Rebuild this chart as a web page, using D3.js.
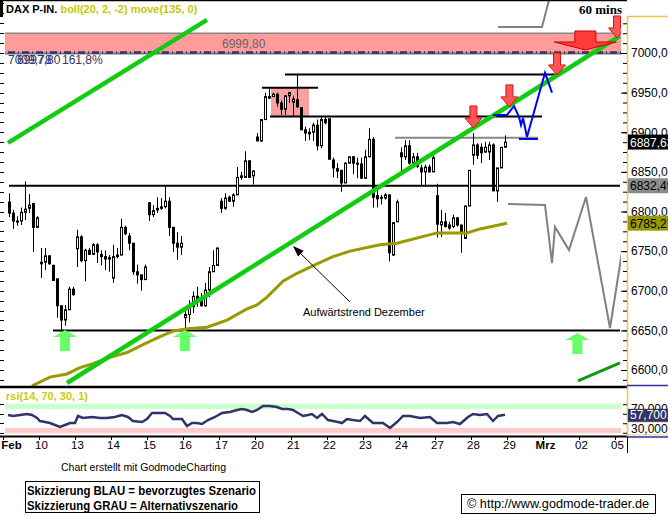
<!DOCTYPE html>
<html>
<head>
<meta charset="utf-8">
<script src="https://cdn.jsdelivr.net/npm/d3@7"></script>
<style>
  body { margin: 0; background: #fff; }
  svg { display: block; font-family: "Liberation Sans", Arial, sans-serif; }
</style>
</head>
<body>
<svg width="668" height="518"></svg>
<script>
// Day labels and the bar index where each trading day starts (hourly bars)
const dayLabels = ['Feb', '10', '13', '14', '15', '16', '17', '20', '21', '22', '23', '24', '27', '28', '29', 'Mrz', '02', '05'];
const dayStarts = [-1, 8, 17, 26, 35, 44, 53, 62, 71, 80, 89, 98, 107, 116, 125, 134, 143, 152];

// Hourly candles [open, high, low, close]
const ohlc = [
  [6812, 6823, 6793, 6798], [6798, 6802, 6778, 6788], [6788, 6794, 6782, 6787], [6788, 6805, 6783, 6799],
  [6799, 6838, 6789, 6803], [6804, 6822, 6798, 6808], [6810, 6811, 6749, 6780], [6780, 6794, 6780, 6792],
  [6734, 6754, 6716, 6736], [6736, 6754, 6726, 6744], [6744, 6745, 6733, 6734], [6732, 6733, 6713, 6713],
  [6715, 6715, 6666, 6681], [6681, 6681, 6648, 6663], [6663, 6682, 6656, 6676], [6676, 6705, 6676, 6702],
  [6702, 6705, 6694, 6695], [6753, 6777, 6730, 6768], [6768, 6770, 6736, 6738], [6738, 6753, 6712, 6751],
  [6751, 6754, 6745, 6746], [6746, 6760, 6745, 6758], [6758, 6760, 6735, 6749], [6746, 6751, 6732, 6743],
  [6743, 6751, 6726, 6740], [6742, 6745, 6724, 6740], [6716, 6758, 6710, 6743], [6743, 6754, 6741, 6745],
  [6745, 6791, 6745, 6780], [6780, 6782, 6770, 6772], [6769, 6773, 6751, 6760], [6760, 6760, 6720, 6724],
  [6724, 6733, 6709, 6720], [6720, 6720, 6700, 6714], [6714, 6733, 6714, 6730], [6811, 6812, 6788, 6796],
  [6796, 6808, 6793, 6801], [6802, 6818, 6798, 6804], [6804, 6817, 6802, 6806], [6806, 6832, 6804, 6813],
  [6813, 6818, 6769, 6780], [6780, 6780, 6749, 6760], [6760, 6774, 6739, 6755], [6755, 6769, 6745, 6760],
  [6666, 6676, 6653, 6670], [6670, 6688, 6660, 6682], [6680, 6699, 6672, 6693], [6693, 6705, 6680, 6688],
  [6688, 6697, 6680, 6681], [6681, 6710, 6680, 6701], [6701, 6730, 6692, 6724], [6724, 6751, 6724, 6732],
  [6732, 6754, 6732, 6754], [6813, 6817, 6798, 6804], [6804, 6823, 6802, 6817], [6818, 6820, 6812, 6813],
  [6813, 6823, 6806, 6821], [6821, 6856, 6821, 6843], [6843, 6850, 6840, 6845], [6843, 6876, 6843, 6864],
  [6864, 6864, 6843, 6843], [6845, 6852, 6834, 6851], [6894, 6899, 6889, 6889], [6889, 6916, 6888, 6916],
  [6916, 6950, 6916, 6945], [6943, 6955, 6942, 6945], [6945, 6950, 6945, 6948], [6948, 6950, 6932, 6937],
  [6937, 6940, 6922, 6929], [6929, 6947, 6922, 6946], [6946, 6951, 6937, 6950], [6938, 6946, 6920, 6942],
  [6941, 6973, 6931, 6932], [6931, 6931, 6903, 6903], [6903, 6907, 6889, 6899], [6898, 6905, 6890, 6900],
  [6900, 6912, 6889, 6909], [6909, 6916, 6877, 6883], [6883, 6919, 6880, 6916], [6916, 6919, 6910, 6912],
  [6917, 6917, 6866, 6866], [6865, 6868, 6843, 6855], [6854, 6861, 6842, 6851], [6852, 6852, 6825, 6836],
  [6836, 6862, 6836, 6861], [6861, 6869, 6861, 6869], [6869, 6870, 6847, 6861], [6861, 6868, 6842, 6860],
  [6860, 6868, 6841, 6842], [6842, 6878, 6842, 6869], [6869, 6905, 6869, 6891], [6891, 6894, 6805, 6818],
  [6820, 6827, 6805, 6816], [6818, 6821, 6809, 6817], [6817, 6823, 6815, 6821], [6821, 6821, 6737, 6748],
  [6745, 6786, 6744, 6786], [6787, 6815, 6787, 6812], [6874, 6881, 6849, 6869], [6869, 6890, 6865, 6883],
  [6883, 6890, 6859, 6861], [6861, 6874, 6856, 6869], [6869, 6874, 6855, 6857], [6855, 6859, 6833, 6850],
  [6850, 6859, 6831, 6856], [6856, 6859, 6849, 6850], [6850, 6874, 6850, 6868], [6820, 6835, 6767, 6784],
  [6783, 6802, 6768, 6787], [6787, 6798, 6780, 6781], [6783, 6787, 6777, 6779], [6781, 6796, 6779, 6792],
  [6792, 6793, 6781, 6783], [6783, 6783, 6748, 6773], [6766, 6807, 6766, 6807], [6807, 6852, 6807, 6852],
  [6871, 6899, 6859, 6884], [6884, 6886, 6866, 6871], [6881, 6886, 6861, 6874], [6875, 6888, 6874, 6881],
  [6875, 6888, 6865, 6884], [6884, 6886, 6826, 6826], [6826, 6855, 6812, 6855], [6855, 6881, 6855, 6881],
  [6881, 6896, 6881, 6887.63]
];

// move(135) line, read at a few bars
const maIdx = [5.75, 10.25, 14.5, 17.75, 21, 25.25, 29.5, 33.5, 37.75, 41, 44.5, 49.5, 54.5, 59.5, 62, 64.5, 68.5, 72, 77, 81, 85.25, 92.75, 97, 107, 114.5, 117.75, 124.5];
const maVal = [6580, 6591, 6595, 6603, 6608, 6616, 6622, 6632, 6642, 6649, 6652, 6654, 6663, 6677, 6682, 6692, 6712, 6722, 6734, 6743, 6750, 6758, 6760, 6773, 6773, 6778, 6785.27];

// rsi(14) line
const rsiIdx = [-0.25, 1, 2.75, 4.5, 5.75, 7, 7.75, 9, 10.25, 11.5, 12.75, 14, 15.25, 16.5, 17.25, 18.5, 20.75, 22.75, 24.5, 26.5, 28.25, 29.75, 31, 33.25, 34.5, 35.75, 37.25, 39, 40.25, 41, 43.25, 44.5, 45.75, 47, 48.25, 49.75, 51.5, 53.25, 55.25, 57, 58.25, 59.5, 60.75, 62, 63.5, 65.25, 67, 68.25, 69.75, 71, 72.25, 73.5, 74.75, 75.75, 77, 78.25, 79.75, 81, 82.25, 83.25, 84.5, 86, 87.75, 89, 91, 93.5, 95.25, 97, 98.5, 100.25, 102.75, 105.25, 107, 109.5, 111, 112.75, 114.75, 116, 117.75, 119.5, 121, 122.25, 124];
const rsiVal = [57.4, 55.3, 57.4, 59.5, 57.4, 51.1, 44.7, 42.6, 40.5, 36.3, 32.1, 36.3, 40.5, 40.5, 55.3, 51.1, 53.2, 51.1, 51.1, 53.2, 57.4, 53.2, 44.7, 42.6, 48.9, 61.6, 61.6, 61.6, 55.3, 48.9, 48.9, 34.2, 40.5, 40.5, 38.4, 46.8, 53.2, 61.6, 63.7, 67.9, 70, 67.9, 63.7, 67.9, 76.3, 76.3, 74.2, 70, 70, 67.9, 61.6, 55.3, 57.4, 59.5, 51.1, 59.5, 46.8, 44.7, 42.6, 40.5, 48.9, 46.8, 44.7, 55.3, 40.5, 40.5, 30, 42.6, 55.3, 55.3, 51.1, 53.2, 40.5, 40.5, 42.6, 38.4, 53.2, 59.5, 57.4, 59.5, 44.7, 55.3, 57.7001];

const priceTicks = [6600, 6650, 6700, 6750, 6800, 6850, 6900, 6950, 7000];
const rsiTicks = [20, 40, 60, 80];

// Drawn trend lines [[bar, price], [bar, price]]
const trendLines = [
  [[-0.25, 6886.5], [49.5, 7041.7]],
  [[14.5, 6583.6], [152.75, 7021.5]]
];
const shortTrend = [[142.25, 6586.2], [152.75, 6608.9]];

// Horizontal marks [fromBar, toBar, price]
const blackLevels = [
  [0, 152.75, 6832.49],
  [11, 152.75, 6650],
  [63.25, 77.25, 6956],
  [69, 137.25, 6973],
  [65.25, 133.25, 6920]
];
const grayLevels = [[96.5, 132.25, 6893]];

// Scenario sketches
const blueIdx = [121, 124.5, 126.25, 127.5, 128, 128.5, 129.5, 134, 135.75];
const bluePx = [6921.8, 6921.8, 6933, 6919.3, 6909, 6918, 6894, 6975, 6950];
const blueBar = [127.5, 132.25, 6891.5];
const grayIdx = [124.75, 134, 135.75, 136.5, 140, 144.25, 150.25, 154];
const grayPx = [6809.5, 6808.2, 6735, 6780.5, 6751.4, 6818.3, 6653, 6773];
const grayTopIdx = [122.25, 133.25, 135, 135.6];
const grayTopPx = [7032.8, 7032.8, 7066.9, 7078];

// Resistance zone and box
const zone = [7000, 7025];
const box = [66, 75, 6920, 6956];

// Arrow tips [bar, price]
const redArrows = [[116.1, 6905.4], [125.1, 6932], [137, 6972.3], [152, 7019]];
const bigArrow = [144.1, 7003.8];
const greenArrows = [[14, 6650.5], [44, 6650.5], [142.1, 6646.7]];

const deLocale = d3.formatLocale({decimal: ',', thousands: '.', grouping: [3], currency: ['', '']});
const fmt2 = deLocale.format('.2f');
const fmt4 = deLocale.format('.4f');

class DaxChart {
  constructor () {
    this.svg = d3.select('svg');
    this.axisX = 627;
    this.plotRight = 621;

    this.x = d3.scaleLinear().domain([-1, 152]).range([5, 617]);
    this.y = d3.scaleLinear().domain([6600, 7000]).range([370, 53]);
    this.r = d3.scaleLinear().domain([30, 70]).range([428, 409]);

    this.line = d3.line()
      .x(d => this.x(d[0]))
      .y(d => this.y(d[1]));

    let defs = this.svg.append('defs');
    defs.append('clipPath').attr('id', 'main-clip')
      .append('rect').attr('x', 4).attr('y', 0).attr('width', this.plotRight - 4).attr('height', 386);

    this.g = this.svg.append('g').attr('clip-path', 'url(#main-clip)');

    this._drawZones();
    this._drawLevels();
    this._drawCandles();
    this._drawStudies();
    this._drawSketches();
    this._drawArrows();
    this._drawFrame();
    this._drawPriceAxis();
    this._drawRsi();
    this._drawTimeAxis();
    this._drawTexts();
  }

  _drawZones () {
    let x0 = 5, x1 = this.plotRight;
    this.g.append('rect')
      .attr('x', x0).attr('width', x1 - x0)
      .attr('y', this.y(zone[1])).attr('height', this.y(zone[0]) - this.y(zone[1]))
      .attr('fill', '#ff9b9b');
    this.g.append('line')
      .attr('x1', x0).attr('x2', x1)
      .attr('y1', this.y(zone[1])).attr('y2', this.y(zone[1]))
      .attr('stroke', '#888').attr('stroke-width', 1.5);
    this.g.append('line')
      .attr('x1', x0).attr('x2', x1)
      .attr('y1', this.y(zone[0]) + 0.5).attr('y2', this.y(zone[0]) + 0.5)
      .attr('stroke', '#777').attr('stroke-width', 2);
    this.g.append('line')
      .attr('x1', x0 + 3).attr('x2', x1)
      .attr('y1', this.y(zone[0]) - 0.5).attr('y2', this.y(zone[0]) - 0.5)
      .attr('stroke', '#333366').attr('stroke-width', 2.5)
      .attr('stroke-dasharray', '7,3,1,3');

    this.g.append('rect')
      .attr('x', this.x(box[0]) - 2).attr('width', this.x(box[1]) - this.x(box[0]) + 2)
      .attr('y', this.y(box[3])).attr('height', this.y(box[2]) - this.y(box[3]))
      .attr('fill', '#f9a0a0');
  }

  _drawLevels () {
    this.g.selectAll('.level')
      .data(blackLevels).enter()
      .append('line')
      .attr('class', 'level')
      .attr('x1', d => this.x(d[0])).attr('x2', d => this.x(d[1]))
      .attr('y1', d => this.y(d[2])).attr('y2', d => this.y(d[2]))
      .attr('stroke', '#000').attr('stroke-width', 2);

    this.g.selectAll('.glevel')
      .data(grayLevels).enter()
      .append('line')
      .attr('class', 'glevel')
      .attr('x1', d => this.x(d[0])).attr('x2', d => this.x(d[1]))
      .attr('y1', d => this.y(d[2])).attr('y2', d => this.y(d[2]))
      .attr('stroke', '#888').attr('stroke-width', 2);
  }

  _drawCandles () {
    let candle = this.g.append('g')
      .attr('class', 'candles')
      .selectAll('g')
      .data(ohlc).enter()
      .append('g');

    candle.append('line')
      .attr('x1', (d, i) => Math.round(this.x(i)) + 0.5)
      .attr('x2', (d, i) => Math.round(this.x(i)) + 0.5)
      .attr('y1', d => this.y(d[1]))
      .attr('y2', d => this.y(d[2]))
      .attr('stroke', '#000').attr('stroke-width', 1);

    candle.append('rect')
      .attr('x', (d, i) => Math.round(this.x(i)) - 0.5)
      .attr('width', 2)
      .attr('y', d => this.y(Math.max(d[0], d[3])))
      .attr('height', d => Math.max(1, Math.abs(this.y(d[0]) - this.y(d[3]))))
      .attr('fill', d => d[3] < d[0] ? '#000' : '#fff')
      .attr('stroke', '#000').attr('stroke-width', 1);
  }

  _drawStudies () {
    this.g.append('path')
      .datum(maIdx.map((d, i) => [d, maVal[i]]))
      .attr('d', this.line)
      .attr('fill', 'none').attr('stroke', '#999900').attr('stroke-width', 3);

    this.g.selectAll('.trend')
      .data(trendLines).enter()
      .append('path')
      .attr('class', 'trend')
      .attr('d', this.line)
      .attr('fill', 'none').attr('stroke', '#11cc11').attr('stroke-width', 4.5);

    this.g.append('path')
      .datum(shortTrend)
      .attr('d', this.line)
      .attr('fill', 'none').attr('stroke', '#119911').attr('stroke-width', 3);
  }

  _drawSketches () {
    this.g.append('path')
      .datum(grayIdx.map((d, i) => [d, grayPx[i]]))
      .attr('d', this.line)
      .attr('fill', 'none').attr('stroke', '#808080').attr('stroke-width', 2);
    this.g.append('path')
      .datum(grayTopIdx.map((d, i) => [d, grayTopPx[i]]))
      .attr('d', this.line)
      .attr('fill', 'none').attr('stroke', '#808080').attr('stroke-width', 2);

    this.g.append('path')
      .datum(blueIdx.map((d, i) => [d, bluePx[i]]))
      .attr('d', this.line)
      .attr('fill', 'none').attr('stroke', '#0000ff').attr('stroke-width', 2);
    this.g.append('path')
      .datum([[blueBar[0], blueBar[2]], [blueBar[1], blueBar[2]]])
      .attr('d', this.line)
      .attr('fill', 'none').attr('stroke', '#0000ff').attr('stroke-width', 2);

    // annotation arrow for the December trend
    let ax0 = this.x(85.25), ay0 = this.y(6685.8);
    let ax1 = this.x(71), ay1 = this.y(6756.5);
    this.svg.append('line')
      .attr('x1', ax0).attr('y1', ay0).attr('x2', ax1 + 5).attr('y2', ay1 + 5)
      .attr('stroke', '#000').attr('stroke-width', 1);
    let ang = Math.atan2(ay1 - ay0, ax1 - ax0) * 180 / Math.PI;
    this.svg.append('path')
      .attr('d', 'M0,0L-11,-4L-11,4Z')
      .attr('transform', `translate(${ax1},${ay1}) rotate(${ang})`)
      .attr('fill', '#000');
    this.svg.append('text')
      .attr('x', this.x(73.5)).attr('y', 316)
      .attr('font-size', 11)
      .text('Aufwärtstrend Dezember');
  }

  _drawArrows () {
    const downPath = (w1, w2, h1, h2) =>
      `M${-w1 / 2},${-(h1 + h2)}H${w1 / 2}V${-h2}H${w2 / 2}L0,0L${-w2 / 2},${-h2}H${-w1 / 2}Z`;
    const upPath = (w1, w2, h1, h2) =>
      `M${-w1 / 2},${h1 + h2}H${w1 / 2}V${h2}H${w2 / 2}L0,0L${-w2 / 2},${h2}H${-w1 / 2}Z`;

    this.g.append('path')
      .attr('d', downPath(21, 62, 11, 8))
      .attr('transform', `translate(${this.x(bigArrow[0])},${this.y(bigArrow[1])})`)
      .attr('fill', '#ff3b3b').attr('stroke', '#d40000').attr('stroke-width', 1);

    this.g.selectAll('.red-arrow')
      .data(redArrows).enter()
      .append('path')
      .attr('class', 'red-arrow')
      .attr('d', downPath(7, 17, 12, 10))
      .attr('transform', d => `translate(${this.x(d[0])},${this.y(d[1])})`)
      .attr('fill', '#ff5555').attr('stroke', '#dd1111').attr('stroke-width', 1);

    this.g.selectAll('.green-arrow')
      .data(greenArrows).enter()
      .append('path')
      .attr('class', 'green-arrow')
      .attr('d', upPath(10, 24, 14, 7))
      .attr('transform', d => `translate(${this.x(d[0])},${this.y(d[1])})`)
      .attr('fill', '#66ff66');
  }

  _drawFrame () {
    let s = this.svg;
    s.append('line').attr('x1', 0).attr('x2', this.axisX).attr('y1', 0.5).attr('y2', 0.5)
      .attr('stroke', '#000').attr('stroke-width', 1.5);
    s.append('line').attr('x1', 0).attr('x2', this.axisX).attr('y1', 387).attr('y2', 387)
      .attr('stroke', '#000').attr('stroke-width', 2.5);
    s.append('line').attr('x1', 0).attr('x2', this.axisX).attr('y1', 436.5).attr('y2', 436.5)
      .attr('stroke', '#000').attr('stroke-width', 2);
    s.append('line').attr('x1', this.axisX + 0.5).attr('x2', this.axisX + 0.5).attr('y1', 16).attr('y2', 437)
      .attr('stroke', '#f2c14e').attr('stroke-width', 1.5);
    s.append('line').attr('x1', this.axisX).attr('x2', 668).attr('y1', 16.5).attr('y2', 16.5)
      .attr('stroke', '#f2c14e').attr('stroke-width', 1.5);
    s.append('line').attr('x1', this.axisX).attr('x2', 668).attr('y1', 385.5).attr('y2', 385.5)
      .attr('stroke', '#333399').attr('stroke-width', 1.5);
    s.append('line').attr('x1', this.axisX).attr('x2', 668).attr('y1', 437).attr('y2', 437)
      .attr('stroke', '#333399').attr('stroke-width', 1.5);
    s.append('line').attr('x1', this.axisX + 0.5).attr('x2', this.axisX + 0.5).attr('y1', 437).attr('y2', 453)
      .attr('stroke', '#000').attr('stroke-width', 1);

    // left edge ticks
    let minor = d3.range(6587.5, 7075, 12.5);
    s.append('g').selectAll('line')
      .data(minor).enter()
      .append('line')
      .attr('x1', 0).attr('x2', 4)
      .attr('y1', d => Math.round(this.y(d)) + 0.5).attr('y2', d => Math.round(this.y(d)) + 0.5)
      .attr('stroke', '#000');
  }

  _drawPriceAxis () {
    let minor = d3.range(6587.5, 7075, 12.5).filter(d => this.y(d) > 18);
    this.svg.append('g')
      .attr('transform', `translate(${this.axisX},0)`)
      .call(d3.axisRight(this.y).tickValues(minor).tickSizeInner(-4).tickSizeOuter(0).tickFormat(''))
      .call(g => g.select('.domain').remove());

    this.svg.append('g')
      .attr('transform', `translate(${this.axisX},0)`)
      .call(d3.axisRight(this.y).tickValues(priceTicks).tickSizeInner(-6).tickSizeOuter(0).tickPadding(4).tickFormat(fmt2))
      .call(g => g.select('.domain').remove())
      .call(g => g.selectAll('text').attr('font-size', 12).attr('font-family', '"Liberation Sans", Arial, sans-serif').attr('fill', '#000'));

    const tag = (price, bg, fg) => {
      let cy = this.y(price);
      let t = this.svg.append('g');
      t.append('rect').attr('x', this.axisX + 1).attr('y', cy - 7.5).attr('width', 42).attr('height', 15).attr('fill', bg);
      t.append('text').attr('x', this.axisX + 3).attr('y', cy + 4.5)
        .attr('font-size', 12).attr('fill', fg).text(fmt2(price));
    };
    tag(6887.63, '#000', '#fff');
    tag(6832.49, '#8c8c8c', '#000');
    tag(6785.27, '#999900', '#000');
  }

  _drawRsi () {
    let x0 = 5, x1 = this.plotRight;
    let g = this.svg.append('g');
    g.append('rect').attr('x', x0).attr('width', x1 - x0)
      .attr('y', this.r(81)).attr('height', this.r(70) - this.r(81)).attr('fill', '#ccffcc');
    g.append('rect').attr('x', x0).attr('width', x1 - x0)
      .attr('y', this.r(30)).attr('height', this.r(19) - this.r(30)).attr('fill', '#ffcccc');

    let rline = d3.line().x(d => this.x(d[0])).y(d => this.r(d[1]));
    g.append('path')
      .datum(rsiIdx.map((d, i) => [d, rsiVal[i]]))
      .attr('d', rline)
      .attr('fill', 'none').attr('stroke', '#333366').attr('stroke-width', 2.5);

    g.append('g').selectAll('line')
      .data(rsiTicks).enter()
      .append('line')
      .attr('x1', 0).attr('x2', 4)
      .attr('y1', d => Math.round(this.r(d)) + 0.5).attr('y2', d => Math.round(this.r(d)) + 0.5)
      .attr('stroke', '#000');

    g.append('g')
      .attr('transform', `translate(${this.axisX},0)`)
      .call(d3.axisRight(this.r).tickValues(rsiTicks).tickSizeInner(-4).tickSizeOuter(0).tickFormat(''))
      .call(a => a.select('.domain').remove());

    g.append('text').attr('x', this.axisX + 4).attr('y', this.r(70) + 4)
      .attr('font-size', 12).text(fmt4(70));
    g.append('rect').attr('x', this.axisX + 1).attr('y', this.r(30) - 6).attr('width', 42).attr('height', 13)
      .attr('fill', '#fff').attr('stroke', '#e8c98a');
    g.append('text').attr('x', this.axisX + 4).attr('y', this.r(30) + 4.5)
      .attr('font-size', 12).text(fmt4(30));
    let last = rsiVal[rsiVal.length - 1];
    g.append('rect').attr('x', this.axisX + 1).attr('y', this.r(last) - 6).attr('width', 42).attr('height', 13)
      .attr('fill', '#333366');
    g.append('text').attr('x', this.axisX + 3).attr('y', this.r(last) + 4.5)
      .attr('font-size', 12).attr('fill', '#fff').text(fmt4(last));

    g.append('text').attr('x', 6).attr('y', 400)
      .attr('font-size', 11).attr('font-weight', 'bold').attr('fill', '#cccc00')
      .text('rsi(14, 70, 30, 1)');
  }

  _drawTimeAxis () {
    let ax = this.svg.append('g')
      .attr('transform', 'translate(0,437)')
      .call(d3.axisBottom(this.x).tickValues(dayStarts).tickSizeInner(3).tickSizeOuter(0).tickPadding(1)
        .tickFormat((d, i) => dayLabels[i]))
      .call(g => g.select('.domain').remove());
    ax.selectAll('text')
      .attr('font-size', 11.5)
      .attr('font-family', '"Liberation Sans", Arial, sans-serif')
      .attr('fill', '#000')
      .attr('font-weight', (d, i) => (dayLabels[i] === 'Feb' || dayLabels[i] === 'Mrz') ? 'bold' : 'normal');
    ax.selectAll('.tick line').attr('transform', 'translate(-2,0)');
    ax.select('.tick text').attr('dx', 6);
  }

  _drawTexts () {
    let s = this.svg;
    s.append('rect').attr('x', 0).attr('y', 0).attr('width', 3).attr('height', 17).attr('fill', '#000');
    let head = s.append('text').attr('x', 6).attr('y', 13).attr('font-size', 11).attr('font-weight', 'bold');
    head.append('tspan').attr('fill', '#000').text('DAX P-IN. ');
    head.append('tspan').attr('fill', '#c8c800').text('boll(20, 2, -2) move(135, 0)');

    s.append('text').attr('x', 622).attr('y', 14).attr('text-anchor', 'end')
      .attr('font-family', '"Liberation Serif", "Times New Roman", serif')
      .attr('font-size', 13).attr('font-weight', 'bold').text('60 mins');

    s.append('text').attr('x', this.x(53.25)).attr('y', this.y(7012) + 4.5)
      .attr('font-size', 12).attr('fill', '#666').text(fmt2(6999.8));
    s.append('text').attr('x', 8).attr('y', 64)
      .attr('font-size', 12).attr('fill', '#333366').text('7009,78');
    s.append('text').attr('x', 17).attr('y', 64)
      .attr('font-size', 12).attr('fill', '#333366').text('6997,80');
    s.append('text').attr('x', 62).attr('y', 64)
      .attr('font-size', 12).attr('fill', '#333366').text('161,8%');

    s.append('text').attr('x', 61).attr('y', 471)
      .attr('font-size', 11).attr('textLength', 165).attr('lengthAdjust', 'spacingAndGlyphs')
      .text('Chart erstellt mit GodmodeCharting');

    s.append('rect').attr('x', 25.5).attr('y', 481.5).attr('width', 234).attr('height', 31)
      .attr('fill', '#fff').attr('stroke', '#000').attr('stroke-width', 1);
    s.append('text').attr('x', 27).attr('y', 495)
      .attr('font-size', 12).attr('font-weight', 'bold')
      .attr('textLength', 229).attr('lengthAdjust', 'spacingAndGlyphs')
      .text('Skizzierung BLAU = bevorzugtes Szenario');
    s.append('text').attr('x', 27).attr('y', 510)
      .attr('font-size', 12).attr('font-weight', 'bold')
      .attr('textLength', 211).attr('lengthAdjust', 'spacingAndGlyphs')
      .text('Skizzierung GRAU = Alternativszenario');

    s.append('rect').attr('x', 461.5).attr('y', 494.5).attr('width', 194).attr('height', 19)
      .attr('fill', '#fff').attr('stroke', '#000').attr('stroke-width', 1);
    s.append('text').attr('x', 467).attr('y', 508)
      .attr('font-size', 12).attr('textLength', 182).attr('lengthAdjust', 'spacingAndGlyphs')
      .text('© http://www.godmode-trader.de');
  }
}

window.addEventListener('load', _ => (window.chart = new DaxChart()));
</script>
</body>
</html>
